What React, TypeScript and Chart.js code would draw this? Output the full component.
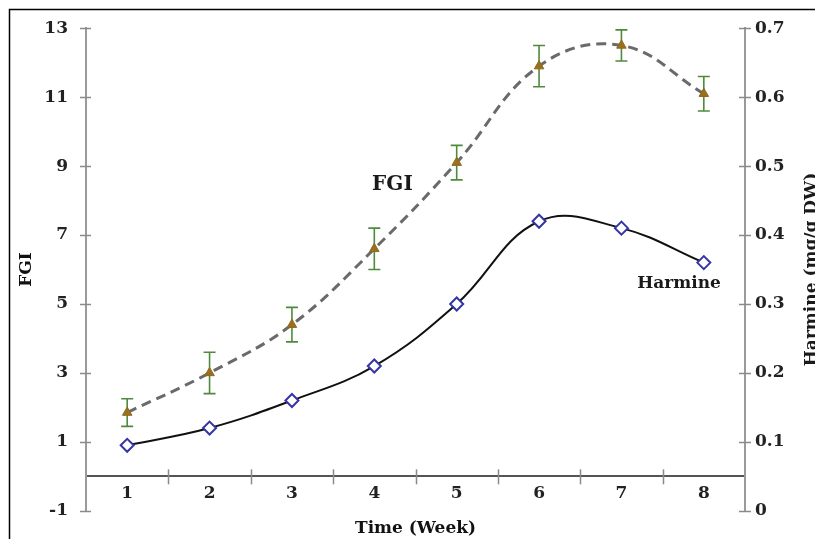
import React, { useEffect, useRef } from "react";
import { Chart, registerables } from "chart.js";

Chart.register(...registerables);

const weeks = ["1", "2", "3", "4", "5", "6", "7", "8"];
const fgiValues = [1.85, 3.0, 4.4, 6.6, 9.1, 11.9, 12.5, 11.1];
const fgiErrors = [0.4, 0.6, 0.5, 0.6, 0.5, 0.6, 0.45, 0.5];
const harmineValues = [0.095, 0.12, 0.16, 0.21, 0.3, 0.42, 0.41, 0.36];
const fgiTicks = { min: -1, max: 13, step: 2 };
const harmineTicks = { min: 0, max: 0.7, step: 0.1 };
const xTitle = "Time (Week)";
const yTitle = "FGI";
const y1Title = "Harmine (mg/g DW)";
const annotations = [
  { text: "FGI", x: 3.22, y: 8.45, size: 20 },
  { text: "Harmine", x: 6.7, y: 5.6, size: 17 },
];

const FONT = "'DejaVu Serif', 'Liberation Serif', serif";

const decorPlugin = {
  id: "decor",
  beforeDraw(chart: any) {
    const ctx = chart.ctx;
    ctx.save();
    ctx.fillStyle = "#ffffff";
    ctx.fillRect(0, 0, chart.width, chart.height);
    ctx.strokeStyle = "#000000";
    ctx.lineWidth = 1.5;
    ctx.strokeRect(9.5, 9.5, chart.width + 20, chart.height + 20);
    ctx.restore();
  },
  beforeDatasetsDraw(chart: any) {
    const ctx = chart.ctx;
    const { x, y, y1 } = chart.scales;
    ctx.save();
    ctx.strokeStyle = "#8a8a8a";
    ctx.lineWidth = 1.5;
    y.ticks.forEach((t: any) => {
      const py = Math.round(y.getPixelForValue(t.value)) + 0.5;
      ctx.beginPath();
      ctx.moveTo(y.right - 6, py);
      ctx.lineTo(y.right + 5, py);
      ctx.stroke();
    });
    y1.ticks.forEach((t: any) => {
      const py = Math.round(y1.getPixelForValue(t.value)) + 0.5;
      ctx.beginPath();
      ctx.moveTo(y1.left - 6, py);
      ctx.lineTo(y1.left + 6, py);
      ctx.stroke();
    });
    const y0 = y.getPixelForValue(0);
    for (let i = 0; i < weeks.length - 1; i++) {
      const px = Math.round((x.getPixelForValue(i) + x.getPixelForValue(i + 1)) / 2) + 0.5;
      ctx.beginPath();
      ctx.moveTo(px, y0 - 7);
      ctx.lineTo(px, y0 + 8);
      ctx.stroke();
    }
    ctx.strokeStyle = "#4f8a3c";
    ctx.lineWidth = 1.6;
    fgiValues.forEach((v, i) => {
      const px = x.getPixelForValue(i);
      const top = y.getPixelForValue(v + fgiErrors[i]);
      const bot = y.getPixelForValue(v - fgiErrors[i]);
      ctx.beginPath();
      ctx.moveTo(px, top);
      ctx.lineTo(px, bot);
      ctx.moveTo(px - 6, top);
      ctx.lineTo(px + 6, top);
      ctx.moveTo(px - 6, bot);
      ctx.lineTo(px + 6, bot);
      ctx.stroke();
    });
    ctx.restore();
  },
  afterDraw(chart: any) {
    const ctx = chart.ctx;
    const { x, y } = chart.scales;
    ctx.save();
    ctx.fillStyle = "#1a1a1a";
    ctx.textAlign = "center";
    ctx.textBaseline = "middle";
    annotations.forEach((a) => {
      ctx.font = `bold ${a.size}px ${FONT}`;
      ctx.fillText(a.text, x.getPixelForValue(a.x), y.getPixelForValue(a.y));
    });
    ctx.font = `bold 17px ${FONT}`;
    ctx.translate(812, (chart.chartArea.top + chart.chartArea.bottom) / 2);
    ctx.rotate(-Math.PI / 2);
    ctx.fillText(y1Title, 0, 0);
    ctx.restore();
  },
};

export default function App() {
  const ref = useRef<HTMLCanvasElement | null>(null);

  useEffect(() => {
    document.body.style.margin = "0";
    const canvas = ref.current;
    if (!canvas) return;
    const tickFont = { family: FONT, size: 17, weight: "bold" as const };
    const chart = new Chart(canvas, {
      type: "line",
      data: {
        labels: weeks,
        datasets: [
          {
            label: "Harmine",
            data: harmineValues,
            yAxisID: "y1",
            borderColor: "#111111",
            borderWidth: 2,
            tension: 0.4,
            pointStyle: "rectRot",
            pointRadius: 6.5,
            pointBorderColor: "#3535a5",
            pointBackgroundColor: "#ffffff",
            pointBorderWidth: 2,
            fill: false,
          },
          {
            label: "FGI",
            data: fgiValues,
            yAxisID: "y",
            borderColor: "#6a6a6a",
            borderWidth: 3,
            borderDash: [10, 6],
            tension: 0.4,
            pointStyle: "triangle",
            pointRadius: 5.5,
            pointBorderColor: "#8f6a1c",
            pointBackgroundColor: "#9a6f1e",
            pointBorderWidth: 1,
            fill: false,
          },
        ],
      },
      options: {
        animation: false,
        responsive: true,
        maintainAspectRatio: false,
        layout: { padding: { top: 22, left: 0, right: 0, bottom: 0 } },
        plugins: { legend: { display: false }, tooltip: { enabled: false } },
        scales: {
          x: {
            type: "category",
            position: { y: 0 } as any,
            offset: true,
            grid: { display: false, drawTicks: false },
            border: { display: true, color: "#555555", width: 2 },
            ticks: { font: tickFont, color: "#222222", padding: 7, maxRotation: 0 },
            title: {
              display: true,
              text: xTitle,
              font: { family: FONT, size: 17, weight: "bold" },
              color: "#111111",
              padding: { top: 0, bottom: -21 },
            },
            afterFit: (s: any) => {
              s.height = 41;
            },
          },
          y: {
            position: "left",
            min: fgiTicks.min,
            max: fgiTicks.max,
            ticks: { stepSize: fgiTicks.step, font: tickFont, color: "#222222", padding: 18 },
            grid: { display: false, drawTicks: false },
            border: { display: true, color: "#9a9a9a", width: 2 },
            title: {
              display: true,
              text: yTitle,
              font: { family: FONT, size: 17, weight: "bold" },
              color: "#111111",
              padding: { top: 16, bottom: 0 },
            },
            afterFit: (s: any) => {
              s.width = 86;
            },
          },
          y1: {
            position: "right",
            min: harmineTicks.min,
            max: harmineTicks.max,
            ticks: { stepSize: harmineTicks.step, font: tickFont, color: "#222222", padding: 10 },
            grid: { display: false, drawTicks: false },
            border: { display: true, color: "#9a9a9a", width: 2 },
            afterFit: (s: any) => {
              s.width = 70;
            },
          },
        },
      },
      plugins: [decorPlugin],
    });
    return () => chart.destroy();
  }, []);

  return (
    <div style={{ width: 815, height: 539, position: "relative" }}>
      <canvas ref={ref} />
    </div>
  );
}
